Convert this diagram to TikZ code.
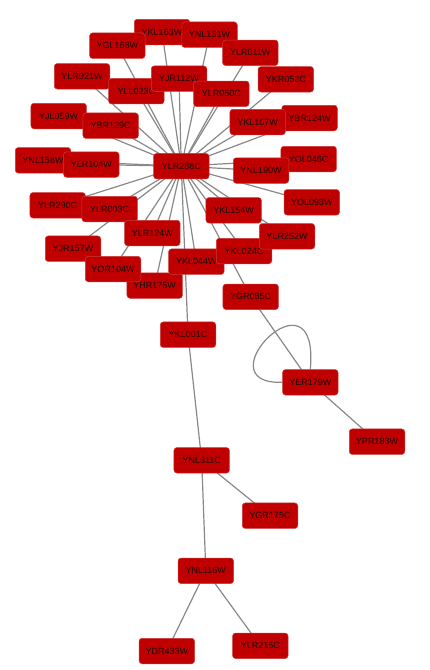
\documentclass[tikz,border=0pt]{standalone}
\usepackage{fontspec}
\setmainfont{Liberation Sans}
\usetikzlibrary{backgrounds}
\definecolor{nodefill}{RGB}{192,0,0}
\definecolor{nodeline}{RGB}{204,56,56}
\definecolor{edgecol}{RGB}{136,136,136}
\definecolor{textcol}{RGB}{25,10,10}
\tikzset{
  gene/.style={rectangle, rounded corners=3pt, fill=nodefill, draw=nodeline, line width=0.5pt,
    minimum width=55.5pt, minimum height=25.5pt, inner sep=0pt, text=textcol,
    font=\fontsize{9pt}{10pt}\selectfont},
  edge/.style={draw=edgecol, line width=1.2pt}
}
\begin{document}
\begin{tikzpicture}[x=1pt,y=-1pt]
\useasboundingbox (0,0) rectangle (430,670);
% nodes, back to front
\node[gene] (ykl163w) at (162,32) {YKL163W};
\node[gene] (ygl168w) at (117.3,45.7) {YGL168W};
\node[gene] (ynl131w) at (209.5,34.7) {YNL131W};
\node[gene] (ylr011w) at (250.3,52.8) {YLR011W};
\node[gene] (ylr021w) at (82,76.3) {YLR021W};
\node[gene] (yll023c) at (136.3,91.2) {YLL023C};
\node[gene] (yjr112w) at (179,78.7) {YJR112W};
\node[gene] (ylr050c) at (221.3,93.8) {YLR050C};
\node[gene] (ykr052c) at (285.8,79.3) {YKR052C};
\node[gene] (yjl059w) at (58.7,116) {YJL059W};
\node[gene] (ybr129c) at (110.7,125.7) {YBR129C};
\node[gene] (ybr124w) at (309.5,118) {YBR124W};
\node[gene] (ykl107w) at (257.7,122) {YKL107W};
\node[gene] (ynl158w) at (43,160.3) {YNL158W};
\node[gene] (ylr104w) at (91.3,164.5) {YLR104W};
\node[gene] (ylr288c) at (181.3,166.2) {YLR288C};
\node[gene] (yol046c) at (308.7,159) {YOL046C};
\node[gene] (ynl190w) at (261,170.5) {YNL190W};
\node[gene] (yol093w) at (311.8,202.3) {YOL093W};
\node[gene] (ylr290c) at (57.7,205.3) {YLR290C};
\node[gene] (ylr003c) at (109.7,209) {YLR003C};
\node[gene] (ykl154w) at (233.7,210.3) {YKL154W};
\node[gene] (ylr124w) at (152.3,233) {YLR124W};
\node[gene] (yhr175w) at (154.7,285.5) {YHR175W};
\node[gene] (ykl044w) at (196.3,261.7) {YKL044W};
\node[gene] (ykl024c) at (244,251) {YKL024C};
\node[gene] (ylr252w) at (287,236.3) {YLR252W};
\node[gene] (yjr157w) at (73,248.7) {YJR157W};
\node[gene] (yor104w) at (113,269) {YOR104W};
\node[gene] (ygr085c) at (250.7,296.8) {YGR085C};
\node[gene] (ykl001c) at (188,334.7) {YKL001C};
\node[gene] (yer179w) at (310.3,382.3) {YER179W};
\node[gene] (ypr183w) at (377,441.7) {YPR183W};
\node[gene] (ynl311c) at (201.7,460.3) {YNL311C};
\node[gene] (ygr175c) at (270,515.7) {YGR175C};
\node[gene] (ynl116w) at (205.8,570.8) {YNL116W};
\node[gene] (ydr433w) at (166.8,651) {YDR433W};
\node[gene] (ylr215c) at (260.3,645.8) {YLR215C};
% edges behind the nodes
\begin{pgfonlayer}{background}
\foreach \t in {ykl163w,ygl168w,ynl131w,ylr011w,ylr021w,yll023c,yjr112w,ylr050c,ykr052c,
  yjl059w,ybr129c,ybr124w,ykl107w,ynl158w,ylr104w,yol046c,ynl190w,yol093w,ylr290c,ylr003c,
  ykl154w,ylr124w,yhr175w,ykl044w,ykl024c,ylr252w,yjr157w,yor104w,ygr085c,ykl001c}
  {\draw[edge] (ylr288c.center) -- (\t.center);}
\draw[edge] (ykl001c.center) -- (ynl311c.center);
\draw[edge] (ynl311c.center) -- (ygr175c.center);
\draw[edge] (ynl311c.center) -- (ynl116w.center);
\draw[edge] (ynl116w.center) -- (ydr433w.center);
\draw[edge] (ynl116w.center) -- (ylr215c.center);
\draw[edge] (ygr085c.center) -- (yer179w.center);
\draw[edge] (yer179w.center) -- (ypr183w.center);
\draw[edge] (yer179w.west) .. controls (200,385) and (320,262) .. (yer179w.north);
\end{pgfonlayer}
\end{tikzpicture}
\end{document}
